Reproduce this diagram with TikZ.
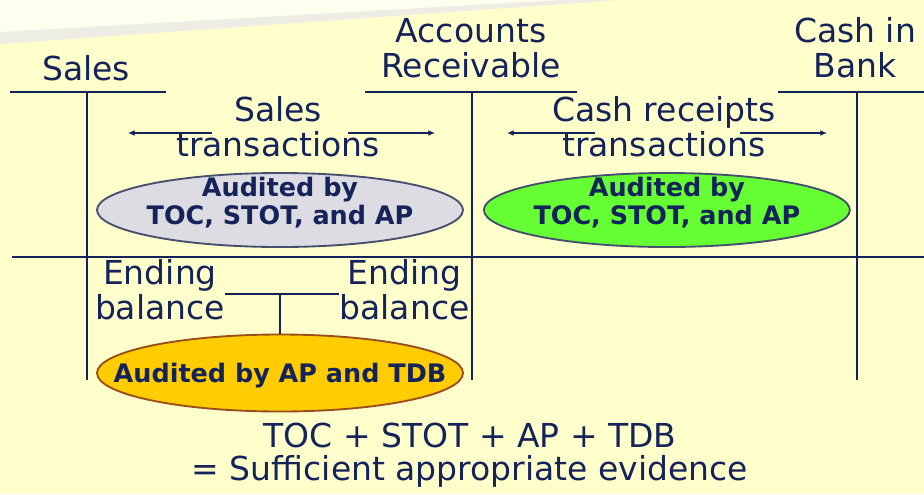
\documentclass[tikz,border=0pt]{standalone}
\usepackage{xcolor}
\usepackage{tikz}
\usepackage{fontspec}
\setmainfont{DejaVu Sans}
\usetikzlibrary{
  arrows.meta,
  shapes.geometric,
  positioning,
  calc
}
\definecolor{taInk}{HTML}{14235A}
\definecolor{taPaper}{HTML}{FFFFCC}
\definecolor{taGlow}{HTML}{FFFFF0}
\definecolor{taBand}{HTML}{EDEDE6}
\definecolor{taGray}{HTML}{DCDCE2}
\definecolor{taGreen}{HTML}{66FF33}
\definecolor{taGold}{HTML}{FFCC00}
\definecolor{taRim}{HTML}{44506E}
\definecolor{taBrown}{HTML}{9A4E1C}
\tikzset{
  tacct/.style={text=taInk, align=center, inner sep=0pt,
    font=\fontsize{24.75}{26.25}\selectfont},
  tline/.style={draw=taInk, line width=1.4pt},
  audit/.style={ellipse, line width=1.4pt, draw=taRim,
    minimum width=274.5pt, minimum height=55.5pt, inner sep=0pt},
  audtext/.style={text=taInk, align=center, inner sep=0pt,
    font=\fontsize{19.1}{21}\selectfont\bfseries},
  txflow/.style={-{Latex[length=5pt, width=4.5pt]}, draw=taInk, line width=1.1pt},
  summary/.style={tacct, font=\fontsize{24.75}{24.75}\selectfont}
}

\begin{document}
\begin{tikzpicture}[x=0.75pt, y=-0.75pt]
  \fill[taPaper] (0,0) rectangle (924,494);
  \useasboundingbox (0,0) rectangle (924,494);
  \fill[taGlow] (0,0) -- (600,0) -- (0,36) -- cycle;
  \fill[taBand] (0,32) -- (560,0) -- (620,0) -- (0,44) -- cycle;

  \node[tacct, anchor=base] (sales) at (86,80) {Sales};
  \node[tacct] (ar) at (471,48) {Accounts\\Receivable};
  \node[tacct] (bank) at (855,48) {Cash in\\Bank};

  \draw[tline] (10,92) -- (166,92);
  \draw[tline] (365,92) -- (577,92);
  \draw[tline] (778,92) -- (924,92);
  \draw[tline] (87,92) -- (87,380);
  \draw[tline] (472,92) -- (472,380);
  \draw[tline] (857,92) -- (857,380);
  \draw[tline] (12,257) -- (924,257);

  \node[tacct] (stx) at (278,127) {Sales\\transactions};
  \node[tacct] (crx) at (664,127) {Cash receipts\\transactions};
  \coordinate (stA) at (212,133);
  \coordinate (stL) at (128,133);
  \coordinate (stB) at (348,133);
  \coordinate (stR) at (435,133);
  \coordinate (crA) at (595,133);
  \coordinate (crL) at (507,133);
  \coordinate (crB) at (740,133);
  \coordinate (crR) at (827,133);
  \draw[txflow] (stA) -- (stL);
  \draw[txflow] (stB) -- (stR);
  \draw[txflow] (crA) -- (crL);
  \draw[txflow] (crB) -- (crR);

  \node[audit, fill=taGray] (salesAud) at (280,210) {};
  \node[audit, fill=taGreen, right=14.25pt of salesAud] (cashAud) {};
  \node[audtext] (salesAudT) at (280,203) {Audited by\\TOC, STOT, and AP};
  \node[audtext] (cashAudT) at (cashAud.center |- salesAudT) {Audited by\\TOC, STOT, and AP};

  \node[tacct] (ebL) at (160,290) {Ending\\balance};
  \node[tacct, right=85.5pt of ebL] (ebR) {Ending\\balance};
  \node[audit, fill=taGold, draw=taBrown, minimum height=57.75pt] (tdbAud) at (280,373) {};
  \node[audtext, anchor=base] (tdbAudT) at (280,382) {Audited by AP and TDB};
  \coordinate (bkt) at (280,294);
  \draw[tline] (ebL.east |- bkt) -- (ebR.west |- bkt);
  \draw[tline] (bkt) -- (tdbAud.north);

  \node[summary] (total) at (470,455) {TOC + STOT + AP + TDB\\= Sufficient appropriate evidence};
\end{tikzpicture}
\end{document}
